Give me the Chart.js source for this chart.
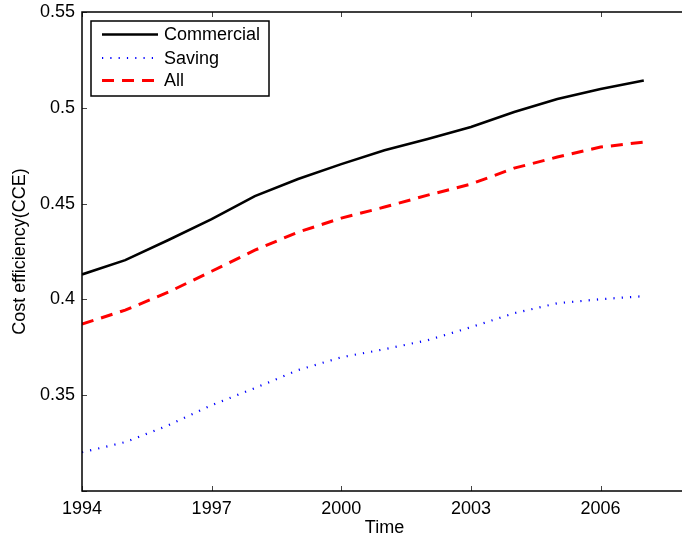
<!DOCTYPE html>
<html><head><meta charset="utf-8">
<script src="https://cdn.jsdelivr.net/npm/chart.js@4.4.0/dist/chart.umd.min.js"></script>
<style>html,body{margin:0;padding:0;overflow:hidden;background:#fff;width:682px;height:544px}canvas{display:block}</style>
</head><body><canvas id="c" width="690" height="544"></canvas>
<script>
const years = [1994,1995,1996,1997,1998,1999,2000,2001,2002,2003,2004,2005,2006,2007];
const commercial = [0.4130,0.4205,0.4310,0.4419,0.4539,0.4628,0.4706,0.4779,0.4837,0.4900,0.4978,0.5046,0.5098,0.5142];
const saving = [0.3202,0.3255,0.3343,0.3448,0.3537,0.3631,0.3698,0.3740,0.3787,0.3855,0.3928,0.3980,0.4001,0.4017];
const all = [0.3871,0.3944,0.4038,0.4147,0.4257,0.4351,0.4424,0.4482,0.4544,0.4602,0.4685,0.4743,0.4795,0.4821];
const seriesLabels = ['Commercial','Saving','All'];
const xTicks = [1994,1997,2000,2003,2006];
const yTicks = [0.3,0.35,0.4,0.45,0.5,0.55];
const yHidden = [0.3];
const FONT = '"Liberation Sans", Arial, Helvetica, sans-serif';

function pts(arr){ return years.map((y,i)=>({x:y,y:arr[i]})); }

const framePlugin = {
  id:'frame',
  afterDraw(chart){
    const {ctx, chartArea:a, scales:{x,y}} = chart;
    ctx.save();
    ctx.strokeStyle = '#444'; ctx.lineWidth = 1;
    ctx.beginPath();
    xTicks.forEach(t=>{ const px = Math.round(x.getPixelForValue(t))+0.5;
      ctx.moveTo(px,a.bottom); ctx.lineTo(px,a.bottom-5);
      ctx.moveTo(px,a.top); ctx.lineTo(px,a.top+5); });
    yTicks.forEach(t=>{ const py = Math.round(y.getPixelForValue(t))+0.5;
      ctx.moveTo(a.left,py); ctx.lineTo(a.left+5,py);
      ctx.moveTo(a.right,py); ctx.lineTo(a.right-5,py); });
    ctx.stroke();
    ctx.strokeStyle = '#000'; ctx.lineWidth = 1.5;
    ctx.strokeRect(a.left, a.top, a.right-a.left, a.bottom-a.top);
    const lx = 91, ly = 21, lw = 178, lh = 75;
    ctx.fillStyle = '#fff'; ctx.fillRect(lx,ly,lw,lh);
    ctx.strokeStyle = '#000'; ctx.lineWidth = 1.5; ctx.strokeRect(lx,ly,lw,lh);
    const rows = [34.5, 58, 80.5];
    chart.data.datasets.forEach((ds,i)=>{
      ctx.save();
      ctx.strokeStyle = ds.borderColor; ctx.lineWidth = ds.borderWidth;
      ctx.setLineDash(ds.borderDash || []);
      ctx.lineCap = 'butt';
      ctx.beginPath(); ctx.moveTo(102, rows[i]); ctx.lineTo(158, rows[i]); ctx.stroke();
      ctx.restore();
      ctx.fillStyle = '#000'; ctx.font = '18px ' + FONT; ctx.textBaseline = 'middle'; ctx.textAlign='left';
      ctx.fillText(ds.label, 164, rows[i]+1);
    });
    ctx.restore();
  }
};

new Chart(document.getElementById('c'), {
  type:'line',
  data:{ datasets:[
    {label:seriesLabels[0], data:pts(commercial), borderColor:'#000000', borderWidth:2.6, pointRadius:0, tension:0, fill:false},
    {label:seriesLabels[1], data:pts(saving), borderColor:'#0000ff', borderWidth:2.2, borderDash:[1.2,7.1], pointRadius:0, tension:0, fill:false},
    {label:seriesLabels[2], data:pts(all), borderColor:'#ff0000', borderWidth:3, borderDash:[12,8], pointRadius:0, tension:0, fill:false}
  ]},
  options:{
    responsive:false, animation:false,
    layout:{padding:{top:12,right:3,left:0,bottom:0}},
    plugins:{legend:{display:false}, tooltip:{enabled:false}},
    scales:{
      x:{type:'linear', min:1994, max:2008,
        afterBuildTicks(s){ s.ticks = xTicks.map(v=>({value:v})); },
        afterFit(s){ s.height = 53; s.paddingLeft = 0; s.paddingRight = 0; },
        grid:{display:false, drawTicks:false}, border:{display:false},
        ticks:{color:'#000', font:{family:FONT,size:18}, padding:7, maxRotation:0, autoSkip:false, callback:v=>String(v)},
        title:{display:true, text:'Time', color:'#000', font:{family:FONT,size:18}, padding:{top:0,bottom:5}}
      },
      y:{type:'linear', min:0.3, max:0.55,
        afterBuildTicks(s){ s.ticks = yTicks.map(v=>({value:v})); },
        afterFit(s){ s.width = 82; s.paddingTop = 0; s.paddingBottom = 0; },
        grid:{display:false, drawTicks:false}, border:{display:false},
        ticks:{color:'#000', font:{family:FONT,size:18}, padding:7, autoSkip:false,
          callback:v=> yHidden.some(h=>Math.abs(h-v)<1e-9) ? '' : String(parseFloat(v.toFixed(2)))},
        title:{display:true, text:'Cost efficiency(CCE)', color:'#000', font:{family:FONT,size:18}, padding:{top:9,bottom:0}}
      }
    }
  },
  plugins:[framePlugin]
});
</script></body></html>
